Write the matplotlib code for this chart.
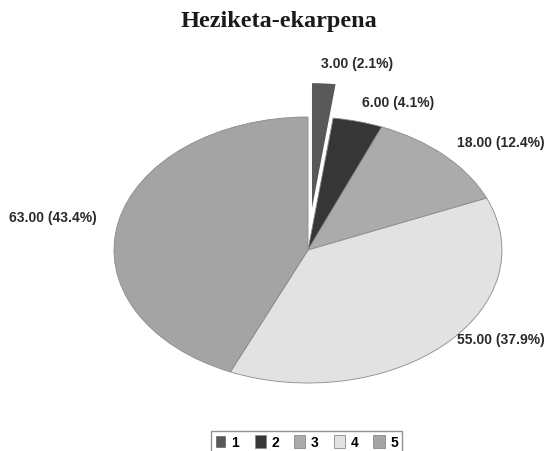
import matplotlib.pyplot as plt
import numpy as np

# values
categories = ['1', '2', '3', '4', '5']
counts = [3.00, 6.00, 18.00, 55.00, 63.00]
colors = ['#585858', '#363636', '#ababab', '#e2e2e2', '#a4a4a4']
explode = [0.26, 0, 0, 0, 0]

# label placement: radius and angle nudge (degrees) from each slice's middle
label_r = [1.41, 1.145, 1.118, 1.018, 1.116]
label_dtheta = [-1.0, -0.7, -1.3, -4.2, 1.0]

total = sum(counts)
labels = ['%.2f (%.1f%%)' % (v, v / total * 100) for v in counts]

fig = plt.figure(figsize=(5.51, 4.52), dpi=100)
ax = fig.add_axes([0, 0, 1, 1])

wedges, _ = ax.pie(counts, colors=colors, explode=explode,
                   startangle=90, counterclock=False,
                   wedgeprops=dict(edgecolor='#8a8a8a', linewidth=0.6))
# white gap between the exploded slice and its neighbours
wedges[0].set_edgecolor('white')
wedges[0].set_linewidth(1.0)

for w, lab, r, dt in zip(wedges, labels, label_r, label_dtheta):
    # angle measured clockwise from 12 o'clock
    mid = 90 - (w.theta1 + w.theta2) / 2.0 + dt
    x = r * np.sin(np.radians(mid))
    y = r * np.cos(np.radians(mid))
    ax.text(x, y, lab, ha='left' if x > 0 else 'right', va='center',
            family='Liberation Sans', fontweight='bold', fontsize=10, color='#2a2a2a')

ax.set_aspect('auto')
ax.set_xlim(-1.5876, 1.2526)
ax.set_ylim(-1.511, 1.887)
ax.axis('off')

fig.text(0.506, 0.953, 'Heziketa-ekarpena', ha='center', va='center',
         family='Liberation Serif', fontweight='bold', fontsize=17.5, color='#1a1a1a')

leg = fig.legend(wedges, categories, loc='upper center', bbox_to_anchor=(0.556, 0.06),
                 ncol=5, frameon=True, fancybox=False, handlelength=0.8, handleheight=1.1,
                 handletextpad=0.4, columnspacing=1.1, borderpad=0.3,
                 prop=dict(family='Liberation Sans', weight='bold', size=10))
leg.get_frame().set_edgecolor('#777777')
leg.get_frame().set_linewidth(1.0)

fig.savefig('out.png', dpi=100)
